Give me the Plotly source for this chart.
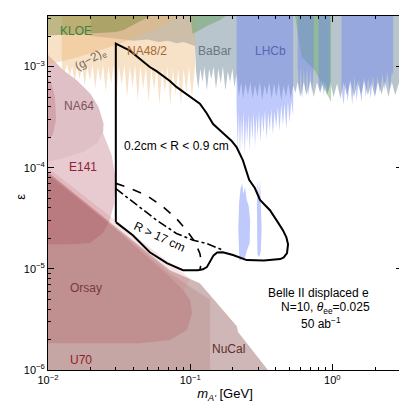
import numpy as np
import plotly.graph_objects as go

# ---- exclusion regions, (mass [GeV], epsilon) boundary points ----
nucal = [(0.01, 1e-6), (0.01, 9.0e-5), (0.03, 2.6e-5), (0.072, 9.7e-6), (0.117, 7.2e-6),
         (0.213, 2.7e-6), (0.217, 2.37e-6), (0.352, 1e-6)]
u70 = [(0.01, 1e-6), (0.01, 8.7e-5), (0.03, 2.5e-5), (0.07, 9.3e-6), (0.12, 5.6e-6),
       (0.138, 5.0e-6), (0.138, 1e-6)]
orsay = [(0.01, 1.84e-6), (0.044, 1.84e-6), (0.072, 1.98e-6), (0.095, 2.48e-6), (0.103, 3.66e-6),
         (0.1, 4.9e-6), (0.089, 6.2e-6), (0.07, 8.6e-6), (0.03, 2.45e-5), (0.01, 8.5e-5)]
strip = [(0.01, 1.0e-4), (0.03, 2.95e-5), (0.0686, 1.2e-5), (0.1, 8.0e-6), (0.09, 6.0e-6),
         (0.03, 2.3e-5), (0.01, 8.5e-5)]
e141 = [(0.01, 1.75e-5), (0.0142, 1.75e-5), (0.0197, 1.8e-5), (0.0243, 2.25e-5), (0.0272, 3.03e-5),
        (0.029, 4.26e-5), (0.030, 7.5e-5), (0.0281, 1.32e-4), (0.0244, 2.19e-4), (0.0221, 1.74e-4),
        (0.0178, 1.43e-4), (0.0129, 1.24e-4), (0.01, 1.14e-4)]
e774 = [(0.01, 1.9e-4), (0.0108, 2.1e-4), (0.0114, 3.0e-4), (0.0112, 5.0e-4), (0.0105, 7.0e-4),
        (0.01, 7.5e-4)]
na64 = [(0.01, 1.14e-4), (0.0129, 1.24e-4), (0.0178, 1.43e-4), (0.0221, 1.74e-4), (0.0244, 2.19e-4),
        (0.0246, 2.74e-4), (0.0227, 3.97e-4), (0.0199, 5.39e-4), (0.016, 7.3e-4), (0.0129, 9.15e-4),
        (0.01, 1.3e-3)]
g2e = [(0.01, 3.2e-3), (0.01, 1.05e-3), (0.015, 1.2e-3), (0.025, 1.5e-3), (0.04, 1.9e-3),
       (0.06, 2.4e-3), (0.085, 3.2e-3)]
na48 = [(0.0125, 3.2e-3), (0.0125, 1.0e-3), (0.013, 8.5e-4), (0.0136, 1.05e-3), (0.0142, 8e-4),
        (0.0148, 1.0e-3), (0.0154, 7e-4), (0.016, 1.0e-3), (0.0167, 7.5e-4), (0.0174, 1.05e-3),
        (0.0181, 6.5e-4), (0.0189, 1.0e-3), (0.0197, 7.2e-4), (0.0206, 1.05e-3), (0.0215, 6e-4),
        (0.0224, 1.0e-3), (0.0234, 7e-4), (0.0244, 1.05e-3), (0.0255, 5.6e-4), (0.0266, 1.0e-3),
        (0.0278, 6.8e-4), (0.029, 1.05e-3), (0.0303, 5.2e-4), (0.0316, 1.0e-3), (0.033, 6.5e-4),
        (0.0345, 1.05e-3), (0.036, 5e-4), (0.0376, 1.0e-3), (0.0393, 6.2e-4), (0.041, 1.05e-3),
        (0.0428, 4.6e-4), (0.0447, 1.0e-3), (0.0467, 6e-4), (0.0488, 1.0e-3), (0.051, 4.5e-4),
        (0.0533, 9.8e-4), (0.0557, 5.8e-4), (0.0582, 1.0e-3), (0.0608, 4.2e-4), (0.0635, 9.5e-4),
        (0.0663, 5.5e-4), (0.0693, 1.0e-3), (0.0724, 4e-4), (0.0756, 9.5e-4), (0.079, 5.2e-4),
        (0.0825, 9.5e-4), (0.0862, 4.2e-4), (0.09, 9.5e-4), (0.094, 5.5e-4), (0.098, 1.0e-3),
        (0.103, 5e-4), (0.108, 1.0e-3), (0.108, 3.2e-3)]
babar = [(0.02, 3.2e-3), (0.02, 2.0e-3), (0.03, 1.9e-3), (0.04, 1.8e-3), (0.05, 1.85e-3),
         (0.06, 1.75e-3), (0.07, 1.8e-3), (0.08, 1.7e-3), (0.09, 1.75e-3), (0.1, 1.65e-3),
         (0.108, 1.6e-3), (0.11, 9e-4), (0.114, 6e-4), (0.118, 9.5e-4), (0.122, 7e-4), (0.126, 1e-3),
         (0.131, 5.8e-4), (0.136, 9.5e-4), (0.141, 7.5e-4), (0.146, 1e-3), (0.152, 6e-4),
         (0.158, 9.5e-4), (0.164, 6.8e-4), (0.17, 1e-3), (0.177, 5.8e-4), (0.184, 9e-4),
         (0.191, 7e-4), (0.198, 9.5e-4), (0.205, 6.2e-4), (0.212, 8.5e-4), (0.22, 5e-4),
         (0.228, 7e-4), (0.236, 4.8e-4), (0.245, 6.8e-4), (0.255, 5.2e-4), (0.265, 7e-4),
         (0.275, 4.8e-4), (0.286, 6.6e-4), (0.297, 5e-4), (0.309, 7e-4), (0.321, 4.7e-4),
         (0.334, 6.5e-4), (0.347, 5.2e-4), (0.36, 7e-4), (0.374, 4.8e-4), (0.389, 6.8e-4),
         (0.404, 5e-4), (0.42, 7e-4), (0.437, 4.6e-4), (0.454, 6.5e-4), (0.472, 5e-4),
         (0.49, 6.8e-4), (0.51, 4.8e-4), (0.53, 6.5e-4), (0.55, 5.5e-4), (0.57, 7e-4), (0.6, 5e-4),
         (0.63, 7e-4), (0.66, 5.2e-4), (0.7, 7.2e-4), (0.74, 5e-4), (0.78, 7e-4), (0.82, 5.5e-4),
         (0.87, 7.2e-4), (0.92, 5.2e-4), (0.97, 7e-4), (1.02, 5e-4), (1.08, 6.8e-4), (1.14, 4.8e-4),
         (1.2, 7e-4), (1.27, 5.2e-4), (1.34, 7.2e-4), (1.42, 5e-4), (1.5, 7e-4), (1.59, 5.3e-4),
         (1.68, 7.2e-4), (1.78, 5.2e-4), (1.88, 7e-4), (1.99, 5e-4), (2.1, 7e-4), (2.22, 5.3e-4),
         (2.35, 7.2e-4), (2.48, 5e-4), (2.62, 7e-4), (2.77, 5.2e-4), (2.93, 6.8e-4), (3.1, 5e-4),
         (3.2, 6.5e-4), (3.2, 3.2e-3)]
kloe_low = [(0.01, 3.2e-3), (0.01, 2.03e-3), (0.0197, 2.12e-3), (0.03, 2.2e-3), (0.034, 2.3e-3),
            (0.045, 2.8e-3), (0.053, 3.2e-3)]
kloe_mid = [(0.1, 3.2e-3), (0.104, 2.1e-3), (0.13, 2.5e-3), (0.16, 2.85e-3), (0.18, 3.2e-3)]
kloe_high = [(0.546, 3.2e-3), (0.609, 1.24e-3), (0.755, 9.15e-4), (0.888, 5.8e-4), (0.98, 4.46e-4),
             (0.98, 3.2e-3)]
lhcb_a = [(0.212, 3.2e-3), (0.212, 4e-4), (0.216, 1.5e-4), (0.22, 3.5e-4), (0.224, 1.3e-4),
          (0.228, 3.2e-4), (0.232, 1.6e-4), (0.237, 3.6e-4), (0.242, 1.35e-4), (0.247, 3e-4),
          (0.252, 1.8e-4), (0.257, 3.4e-4), (0.262, 1.45e-4), (0.268, 3.2e-4), (0.274, 1.9e-4),
          (0.28, 3.5e-4), (0.286, 1.6e-4), (0.292, 3.3e-4), (0.298, 2.0e-4), (0.305, 3.6e-4),
          (0.312, 1.8e-4), (0.32, 3.4e-4), (0.328, 2.2e-4), (0.336, 3.7e-4), (0.345, 1.9e-4),
          (0.354, 3.5e-4), (0.363, 2.3e-4), (0.372, 3.8e-4), (0.382, 2.1e-4), (0.392, 3.6e-4),
          (0.403, 2.5e-4), (0.414, 4e-4), (0.425, 2.3e-4), (0.437, 4.2e-4), (0.449, 2.6e-4),
          (0.461, 4.3e-4), (0.474, 2.4e-4), (0.487, 4.5e-4), (0.5, 2.8e-4), (0.515, 4.6e-4),
          (0.53, 3.2e-4), (0.53, 3.2e-3)]
lhcb_b = [(0.57, 3.2e-3), (0.57, 1.0e-3), (0.585, 5e-4), (0.6, 1.0e-3), (0.615, 4.8e-4),
          (0.63, 9.5e-4), (0.647, 5.2e-4), (0.664, 1.0e-3), (0.682, 5e-4), (0.7, 9.5e-4),
          (0.72, 5.5e-4), (0.74, 1.0e-3), (0.74, 3.2e-3)]
lhcb_c = [(0.80, 3.2e-3), (0.80, 7e-4), (0.82, 5.5e-4), (0.845, 7.5e-4), (0.87, 5.2e-4),
          (0.9, 7e-4), (0.93, 5.5e-4), (0.96, 6.5e-4), (0.96, 3.2e-3)]
lhcb_d = [(1.16, 3.2e-3), (1.16, 6e-4), (1.2, 4.2e-4), (1.24, 7e-4), (1.28, 4.5e-4), (1.33, 7.5e-4),
          (1.38, 4.2e-4), (1.43, 8e-4), (1.48, 4.6e-4), (1.54, 7.5e-4), (1.6, 4.4e-4), (1.66, 8e-4),
          (1.72, 5e-4), (1.79, 7.8e-4), (1.86, 4.8e-4), (1.93, 8.2e-4), (2.0, 5.2e-4), (2.08, 8e-4),
          (2.16, 5.5e-4), (2.25, 8.5e-4), (2.34, 5.8e-4), (2.43, 8.8e-4), (2.53, 6e-4), (2.63, 9e-4),
          (2.68, 8e-4), (2.68, 3.2e-3)]
lhcb_disp1 = [(0.222, 1.2e-5), (0.218, 2.5e-5), (0.221, 4.5e-5), (0.226, 6.2e-5), (0.232, 7.0e-5),
              (0.237, 5.5e-5), (0.243, 6.5e-5), (0.25, 4.8e-5), (0.258, 4.2e-5), (0.264, 3.0e-5),
              (0.262, 1.8e-5), (0.25, 1.5e-5), (0.24, 1.2e-5), (0.232, 1.25e-5)]
lhcb_disp2 = [(0.297, 1.4e-5), (0.295, 4e-5), (0.298, 7.5e-5), (0.305, 5e-5), (0.31, 7.8e-5),
              (0.315, 4.5e-5), (0.318, 2.5e-5), (0.314, 1.5e-5), (0.306, 1.3e-5)]

# ---- Belle II displaced-vertex sensitivity contours ----
solid = [(0.03, 2.9e-5), (0.03, 1.69e-3), (0.0356, 1.5e-3), (0.038, 1.42e-3), (0.041, 1.3e-3),
         (0.044, 1.2e-3), (0.048, 1.1e-3), (0.052, 9.9e-4), (0.058, 9.0e-4), (0.064, 8.2e-4),
         (0.072, 7.2e-4), (0.080, 6.3e-4), (0.09, 5.6e-4), (0.1, 5.0e-4), (0.117, 4.3e-4),
         (0.13, 3.5e-4), (0.145, 2.7e-4), (0.17, 2.2e-4), (0.195, 1.85e-4), (0.212, 1.6e-4),
         (0.225, 1.35e-4), (0.235, 1.18e-4), (0.26, 7.6e-5), (0.285, 6.3e-5), (0.31, 4.8e-5),
         (0.364, 3.8e-5), (0.41, 2.95e-5), (0.45, 2.4e-5), (0.475, 2.05e-5), (0.488, 1.75e-5),
         (0.48, 1.43e-5), (0.455, 1.3e-5), (0.43, 1.25e-5), (0.33, 1.21e-5), (0.25, 1.22e-5),
         (0.2, 1.37e-5), (0.17, 1.46e-5), (0.155, 1.45e-5), (0.146, 1.36e-5), (0.14, 1.22e-5),
         (0.131, 1.04e-5), (0.123, 9.9e-6), (0.113, 9.7e-6), (0.089, 9.7e-6), (0.0686, 1.14e-5),
         (0.052, 1.46e-5), (0.0395, 2.15e-5), (0.03, 2.9e-5)]
dashed = [(0.03, 7.0e-5), (0.0356, 6.45e-5), (0.0493, 5.34e-5), (0.0646, 4.09e-5), (0.0801, 3.14e-5),
          (0.0943, 2.41e-5), (0.108, 1.85e-5), (0.117, 1.42e-5), (0.120, 1.17e-5), (0.117, 9.7e-6)]
dashdot = [(0.03, 6.2e-5), (0.0397, 4.58e-5), (0.058, 3.03e-5), (0.0801, 2.24e-5), (0.105, 1.92e-5),
           (0.1305, 1.78e-5), (0.1705, 1.53e-5)]

# name, mass, epsilon, colour, angle
region_labels = [
    ("KLOE", 0.0157, 2.27e-3, "#3f7f3f", 0),
    ("(g\u22122)<sub>e</sub>", 0.0199, 1.17e-3, "#7a6a60", -30),
    ("NA48/2", 0.0496, 1.44e-3, "#a8692e", 0),
    ("BaBar", 0.149, 1.44e-3, "#6b7782", 0),
    ("LHCb", 0.367, 1.44e-3, "#5566b5", 0),
    ("NA64", 0.0164, 4.04e-4, "#7d5560", 0),
    ("E141", 0.0176, 1.02e-4, "#8e2236", 0),
    ("Orsay", 0.0184, 6.44e-6, "#7a3a3a", 0),
    ("U70", 0.017, 1.26e-6, "#8e1f1f", 0),
    ("NuCal", 0.187, 1.61e-6, "#5c2e2e", 0),
]

x_major = [0.01, 0.1, 1.0]
x_major_text = ["10<sup>\u22122</sup>", "10<sup>\u22121</sup>", "10<sup>0</sup>"]
x_minor = [2e-2, 3e-2, 4e-2, 5e-2, 6e-2, 7e-2, 8e-2, 9e-2, 0.2, 0.3, 0.4, 0.5, 0.6, 0.7, 0.8, 0.9, 2, 3]
y_major = [1e-6, 1e-5, 1e-4, 1e-3]
y_major_text = ["10<sup>\u22126</sup>", "10<sup>\u22125</sup>", "10<sup>\u22124</sup>", "10<sup>\u22123</sup>"]
y_minor = [k * 10.0 ** p for p in (-6, -5, -4) for k in range(2, 10)] + [2e-3, 3e-3]

fills = [
    (nucal, "rgba(150,95,95,0.45)"),
    (u70, "rgba(175,125,125,0.3)"),
    (orsay, "rgba(180,105,105,0.35)"),
    (strip, "rgba(215,125,130,0.2)"),
    (e141, "rgba(170,70,85,0.28)"),
    (e774, "rgba(170,70,85,0.25)"),
    (na64, "rgba(170,90,105,0.38)"),
    (babar, "rgba(120,145,160,0.53)"),
    (g2e, "rgba(235,180,115,0.4)"),
    (na48, "rgba(235,180,115,0.4)"),
    (kloe_low, "rgba(120,135,55,0.45)"),
    (kloe_mid, "rgba(100,160,90,0.45)"),
    (kloe_high, "rgba(100,170,90,0.45)"),
    (lhcb_a, "rgba(110,130,245,0.43)"),
    (lhcb_b, "rgba(110,130,245,0.43)"),
    (lhcb_c, "rgba(110,130,245,0.43)"),
    (lhcb_d, "rgba(110,130,245,0.43)"),
    (lhcb_disp1, "rgba(110,130,245,0.43)"),
    (lhcb_disp2, "rgba(110,130,245,0.43)"),
]

fig = go.Figure()
for pts, color in fills:
    m, e = zip(*pts)
    fig.add_trace(go.Scatter(x=m, y=e, mode="lines", fill="toself", fillcolor=color,
                             line=dict(width=0), hoverinfo="skip"))

for pts, dash, width in [(solid, "solid", 2), (dashed, "dash", 1.6), (dashdot, "dashdot", 1.6)]:
    m, e = zip(*pts)
    fig.add_trace(go.Scatter(x=m, y=e, mode="lines", line=dict(color="black", width=width, dash=dash),
                             hoverinfo="skip"))

for text, m, e, color, angle in region_labels:
    fig.add_annotation(x=np.log10(m), y=np.log10(e), text=text, showarrow=False, textangle=angle,
                       font=dict(size=12, color=color))

fig.add_annotation(x=np.log10(0.0329), y=np.log10(1.63e-4), text="0.2cm &lt; R &lt; 0.9 cm",
                   showarrow=False, xanchor="left", font=dict(size=12, color="black"))
fig.add_annotation(x=np.log10(0.0612), y=np.log10(2.07e-5), text="R &gt; 17 cm", showarrow=False,
                   textangle=25, font=dict(size=12, color="black"))
fig.add_annotation(x=np.log10(0.80), y=np.log10(5.8e-6), text="Belle II displaced e",
                   showarrow=False, font=dict(size=12, color="black"))
fig.add_annotation(x=np.log10(0.888), y=np.log10(4.09e-6), text="N=10, <i>\u03b8</i><sub>ee</sub>=0.025",
                   showarrow=False, font=dict(size=12, color="black"))
fig.add_annotation(x=np.log10(0.833), y=np.log10(2.91e-6), text="50 ab<sup>\u22121</sup>",
                   showarrow=False, font=dict(size=12, color="black"))

# y-axis label placed by hand, further out than the title standoff allows
fig.add_annotation(x=-0.105, y=0.49, xref="paper", yref="paper", text="\u03b5", showarrow=False,
                   textangle=-90, font=dict(size=13, color="black"))

axis_style = dict(type="log", showgrid=False, zeroline=False, showline=True, linecolor="black",
                  linewidth=1, mirror="ticks", ticks="inside", ticklen=6, tickcolor="black",
                  tickmode="array", automargin=False, tickfont=dict(size=11, color="black"))

fig.update_xaxes(**axis_style, range=[-2, 0.49], tickvals=x_major, ticktext=x_major_text,
                 minor=dict(ticks="inside", ticklen=3, tickcolor="black", tickmode="array",
                            tickvals=x_minor, showgrid=False),
                 title=dict(text="<i>m</i><sub><i>A'</i></sub> [GeV]", font=dict(size=13), standoff=2))
fig.update_yaxes(**axis_style, range=[-6, -2.5], tickvals=y_major, ticktext=y_major_text,
                 minor=dict(ticks="inside", ticklen=3, tickcolor="black", tickmode="array",
                            tickvals=y_minor, showgrid=False))

# the page body adds an 8 px offset, so the figure is drawn 8 px smaller
fig.update_layout(
    width=399, height=401,
    margin=dict(l=40, r=5, t=8, b=39),
    plot_bgcolor="white", paper_bgcolor="white",
    showlegend=False,
    font=dict(family="Liberation Sans, Arial, sans-serif", size=11, color="black"),
)

fig.write_html("out.html")
